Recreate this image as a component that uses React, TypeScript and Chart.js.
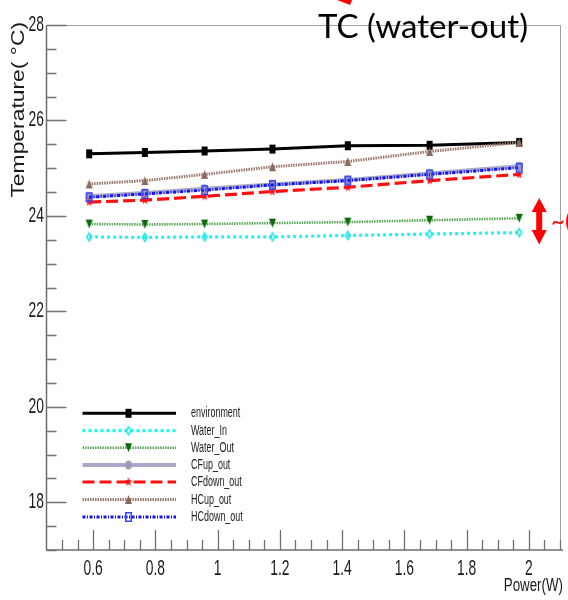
import React, { useEffect, useRef } from "react";
import { Chart, registerables } from "chart.js";

Chart.register(...registerables);

// ---------- data ----------
const power = [0.587, 0.766, 0.958, 1.176, 1.418, 1.681, 1.969];
const environment = [25.3, 25.33, 25.36, 25.4, 25.47, 25.48, 25.54];
const waterIn = [23.56, 23.55, 23.56, 23.56, 23.59, 23.62, 23.65];
const waterOut = [23.83, 23.82, 23.83, 23.85, 23.87, 23.91, 23.95];
const cfUpOut = [24.41, 24.48, 24.57, 24.66, 24.75, 24.89, 25.04];
const cfDownOut = [24.29, 24.33, 24.41, 24.51, 24.6, 24.74, 24.87];
const hcUpOut = [24.67, 24.74, 24.87, 25.03, 25.14, 25.35, 25.54];
const hcDownOut = [24.39, 24.46, 24.54, 24.65, 24.74, 24.87, 25.01];

const seriesNames = ["environment", "Water_In", "Water_Out", "CFup_out", "CFdown_out", "HCup_out", "HCdown_out"];

const xTickValues = [0.6, 0.8, 1, 1.2, 1.4, 1.6, 1.8, 2];
const xTickLabels = ["0.6", "0.8", "1", "1.2", "1.4", "1.6", "1.8", "2"];
const yTickValues = [18, 20, 22, 24, 26, 28];
const yTickLabels = ["18", "20", "22", "24", "26", "28"];

const xTitle = "Power(W)";
const yTitle = "Temperature( \u00B0C)";
const chartTitle = "TC (water-out)";

// ---------- markers ----------
function makeMarker(kind: string, color: string, w: number, h: number): HTMLCanvasElement {
  const c = document.createElement("canvas");
  const pad = 2;
  c.width = w + pad * 2;
  c.height = h + pad * 2;
  const ctx = c.getContext("2d")!;
  ctx.translate(pad, pad);
  ctx.fillStyle = color;
  ctx.strokeStyle = color;
  ctx.lineWidth = 1.5;
  ctx.beginPath();
  if (kind === "square") {
    ctx.fillRect(0, 0, w, h);
  } else if (kind === "openSquare") {
    ctx.strokeRect(0.75, 0.75, w - 1.5, h - 1.5);
  } else if (kind === "openDiamond") {
    ctx.moveTo(w / 2, 0.5);
    ctx.lineTo(w - 0.5, h / 2);
    ctx.lineTo(w / 2, h - 0.5);
    ctx.lineTo(0.5, h / 2);
    ctx.closePath();
    ctx.stroke();
  } else if (kind === "triDown") {
    ctx.moveTo(0, 0);
    ctx.lineTo(w, 0);
    ctx.lineTo(w / 2, h);
    ctx.closePath();
    ctx.fill();
  } else if (kind === "triUp") {
    ctx.moveTo(w / 2, 0);
    ctx.lineTo(w, h);
    ctx.lineTo(0, h);
    ctx.closePath();
    ctx.fill();
  } else if (kind === "circle") {
    ctx.ellipse(w / 2, h / 2, w / 2, h / 2, 0, 0, Math.PI * 2);
    ctx.fill();
  } else if (kind === "star") {
    const cx = w / 2, cy = h / 2;
    for (let i = 0; i < 10; i++) {
      const r = i % 2 === 0 ? 1 : 0.42;
      const a = -Math.PI / 2 + (i * Math.PI) / 5;
      const px = cx + Math.cos(a) * r * (w / 2);
      const py = cy + Math.sin(a) * r * (h / 2);
      if (i === 0) ctx.moveTo(px, py);
      else ctx.lineTo(px, py);
    }
    ctx.closePath();
    ctx.fill();
  }
  return c;
}

function drawStretchedText(
  ctx: CanvasRenderingContext2D,
  text: string,
  x: number,
  y: number,
  font: string,
  sx: number,
  align: CanvasTextAlign,
  color: string,
  baseline: CanvasTextBaseline = "alphabetic"
) {
  ctx.save();
  ctx.translate(x, y);
  ctx.scale(sx, 1);
  ctx.font = font;
  ctx.fillStyle = color;
  ctx.textAlign = align;
  ctx.textBaseline = baseline;
  ctx.fillText(text, 0, 0);
  ctx.restore();
}

const rootPlugin = {
  id: "rootStyle",
  beforeDatasetsDraw(chart: any) {
    const { ctx, chartArea } = chart;
    const xs = chart.scales.x;
    const ys = chart.scales.y;
    const { left, right, top, bottom } = chartArea;
    ctx.save();
    // frame
    ctx.strokeStyle = "#a0a0a0";
    ctx.lineWidth = 1;
    ctx.beginPath();
    ctx.moveTo(left, top + 0.5);
    ctx.lineTo(right, top + 0.5);
    ctx.moveTo(right + 0.5, top);
    ctx.lineTo(right + 0.5, bottom);
    ctx.stroke();
    // axes
    ctx.strokeStyle = "#6e6e6e";
    ctx.lineWidth = 1.5;
    ctx.beginPath();
    ctx.moveTo(left, top);
    ctx.lineTo(left, bottom);
    ctx.moveTo(left, bottom);
    ctx.lineTo(right + 3, bottom);
    ctx.stroke();
    // y ticks
    ctx.strokeStyle = "#707070";
    ctx.lineWidth = 1.3;
    ctx.beginPath();
    for (let v = 17; v <= 28.001; v += 0.5) {
      const y = Math.round(ys.getPixelForValue(v)) + 0.5;
      const major = Math.abs(v / 2 - Math.round(v / 2)) < 1e-6;
      ctx.moveTo(left, y);
      ctx.lineTo(left + (major ? 20 : 10), y);
    }
    // x ticks
    for (let k = 9; k <= 42; k++) {
      const v = k * 0.05;
      const x = Math.round(xs.getPixelForValue(v)) + 0.5;
      if (x < left + 2 || x > right + 1) continue;
      const major = k % 4 === 0;
      ctx.moveTo(x, bottom);
      ctx.lineTo(x, bottom - (major ? 20 : 10));
    }
    ctx.stroke();
    ctx.restore();

    // tick labels
    const tickFont = "22px 'Liberation Sans', Arial, sans-serif";
    yTickValues.forEach((v, i) => {
      const y = ys.getPixelForValue(v);
      drawStretchedText(ctx, yTickLabels[i], left - 2.5, y + 6, tickFont, 0.63, "right", "#1a1a1a");
    });
    xTickValues.forEach((v, i) => {
      const x = xs.getPixelForValue(v);
      drawStretchedText(ctx, xTickLabels[i], x, bottom + 25, tickFont, 0.63, "center", "#1a1a1a");
    });
    // axis titles
    drawStretchedText(ctx, xTitle, right + 3, 591, "18px 'Liberation Sans', Arial, sans-serif", 0.74, "right", "#1a1a1a");
    ctx.save();
    ctx.translate(24, top - 3);
    ctx.rotate(-Math.PI / 2);
    ctx.scale(1.27, 1);
    ctx.font = "18px 'Liberation Sans', Arial, sans-serif";
    ctx.fillStyle = "#1a1a1a";
    ctx.textAlign = "right";
    ctx.textBaseline = "alphabetic";
    ctx.fillText(yTitle, 0, 0);
    ctx.restore();
  },
  afterDatasetsDraw(chart: any) {
    const { ctx } = chart;
    // legend
    const x0 = 82.5, x1 = 176, xm = 128.5, xt = 191;
    const rows = [413.3, 430.7, 447.7, 465, 482, 499.5, 517];
    chart.data.datasets.forEach((ds: any, i: number) => {
      const y = rows[i];
      ctx.save();
      ctx.strokeStyle = ds.borderColor;
      ctx.lineWidth = ds.borderWidth;
      ctx.setLineDash(ds.borderDash || []);
      ctx.beginPath();
      ctx.moveTo(x0, y);
      ctx.lineTo(x1, y);
      ctx.stroke();
      ctx.restore();
      const m = ds.pointStyle as HTMLCanvasElement;
      ctx.drawImage(m, xm - m.width / 2, y - m.height / 2);
      drawStretchedText(ctx, ds.label, xt, y + 4, "14px 'Liberation Sans', Arial, sans-serif", 0.64, "left", "#222222");
    });

    // annotations: title and red arrows
    ctx.save();
    ctx.font = "32px Lato, 'Open Sans', sans-serif";
    const w = ctx.measureText(chartTitle).width;
    ctx.translate(318, 38);
    ctx.scale(210 / w, 1);
    ctx.fillStyle = "#000000";
    ctx.textAlign = "left";
    ctx.textBaseline = "alphabetic";
    ctx.fillText(chartTitle, 0, 0);
    ctx.restore();

    ctx.save();
    ctx.fillStyle = "#ff0000";
    // partial arrow tip at top
    ctx.beginPath();
    ctx.moveTo(337, 0);
    ctx.lineTo(352, 0);
    ctx.lineTo(350, 5);
    ctx.lineTo(345, 3);
    ctx.closePath();
    ctx.fill();
    // double arrow
    const ax = 539.2;
    ctx.beginPath();
    ctx.moveTo(ax, 198);
    ctx.lineTo(ax + 7.5, 212);
    ctx.lineTo(ax + 3, 212);
    ctx.lineTo(ax + 3, 230);
    ctx.lineTo(ax + 7.5, 230);
    ctx.lineTo(ax, 244.5);
    ctx.lineTo(ax - 7.5, 230);
    ctx.lineTo(ax - 3, 230);
    ctx.lineTo(ax - 3, 212);
    ctx.lineTo(ax - 7.5, 212);
    ctx.closePath();
    ctx.fill();
    ctx.font = "24px Lato, 'Open Sans', sans-serif";
    ctx.textAlign = "left";
    ctx.textBaseline = "alphabetic";
    ctx.fillText("~(", 551, 229);
    ctx.restore();
  },
};

const seriesValues = [environment, waterIn, waterOut, cfUpOut, cfDownOut, hcUpOut, hcDownOut];

function markerSpec(kind: string, color: string, w: number, h: number) {
  return { kind, color, w, h };
}

const seriesStyles = [
  { color: "#000000", width: 3, dash: [] as number[], marker: markerSpec("square", "#000000", 6, 9) },
  { color: "#22f4f4", width: 3.2, dash: [3, 3], marker: markerSpec("openDiamond", "#22e8e8", 6, 9) },
  { color: "#5aa85a", width: 2.6, dash: [1.5, 1], marker: markerSpec("triDown", "#0a6a0a", 7, 9) },
  { color: "#aaaac8", width: 4, dash: [] as number[], marker: markerSpec("circle", "#9c9cba", 7, 9) },
  { color: "#ff1010", width: 3.2, dash: [12, 5], marker: markerSpec("star", "#ff1010", 8, 10) },
  { color: "#9c7a6c", width: 3, dash: [1.5, 1], marker: markerSpec("triUp", "#8a6a5c", 7, 9) },
  { color: "#1010ff", width: 3, dash: [3, 1.5, 1, 1.5], marker: markerSpec("openSquare", "#3344ff", 7, 10) },
];

export default function App() {
  const ref = useRef<HTMLCanvasElement | null>(null);
  useEffect(() => {
    if (!ref.current) return;
    const datasets = seriesNames.map((name, i) => {
      const st = seriesStyles[i];
      const m = makeMarker(st.marker.kind, st.marker.color, st.marker.w, st.marker.h);
      return {
        label: name,
        data: power.map((p, j) => ({ x: p, y: seriesValues[i][j] })),
        borderColor: st.color,
        backgroundColor: st.color,
        borderWidth: st.width,
        borderDash: st.dash,
        pointStyle: m,
        pointRadius: 4,
        tension: 0,
        fill: false,
        order: -i,
      };
    });
    const chart = new Chart(ref.current, {
      type: "line",
      data: { datasets } as any,
      options: {
        animation: false,
        responsive: false,
        devicePixelRatio: 1,
        layout: { padding: { left: 0, right: 4, top: 25, bottom: 0 } },
        plugins: { legend: { display: false }, tooltip: { enabled: false }, title: { display: false } },
        scales: {
          x: {
            type: "linear",
            min: 0.45,
            max: 2.1,
            grid: { display: false },
            border: { display: false },
            ticks: { display: false },
            afterFit: (s: any) => {
              s.height = 50;
            },
          },
          y: {
            type: "linear",
            min: 17,
            max: 28,
            grid: { display: false },
            border: { display: false },
            ticks: { display: false },
            afterFit: (s: any) => {
              s.width = 46.5;
            },
          },
        },
      } as any,
      plugins: [rootPlugin],
    });
    return () => chart.destroy();
  }, []);
  return (
    <div style={{ position: "fixed", left: 0, top: 0, width: 568, height: 600, background: "#ffffff" }}>
      <canvas ref={ref} width={568} height={600} style={{ width: 568, height: 600, display: "block" }} />
    </div>
  );
}
